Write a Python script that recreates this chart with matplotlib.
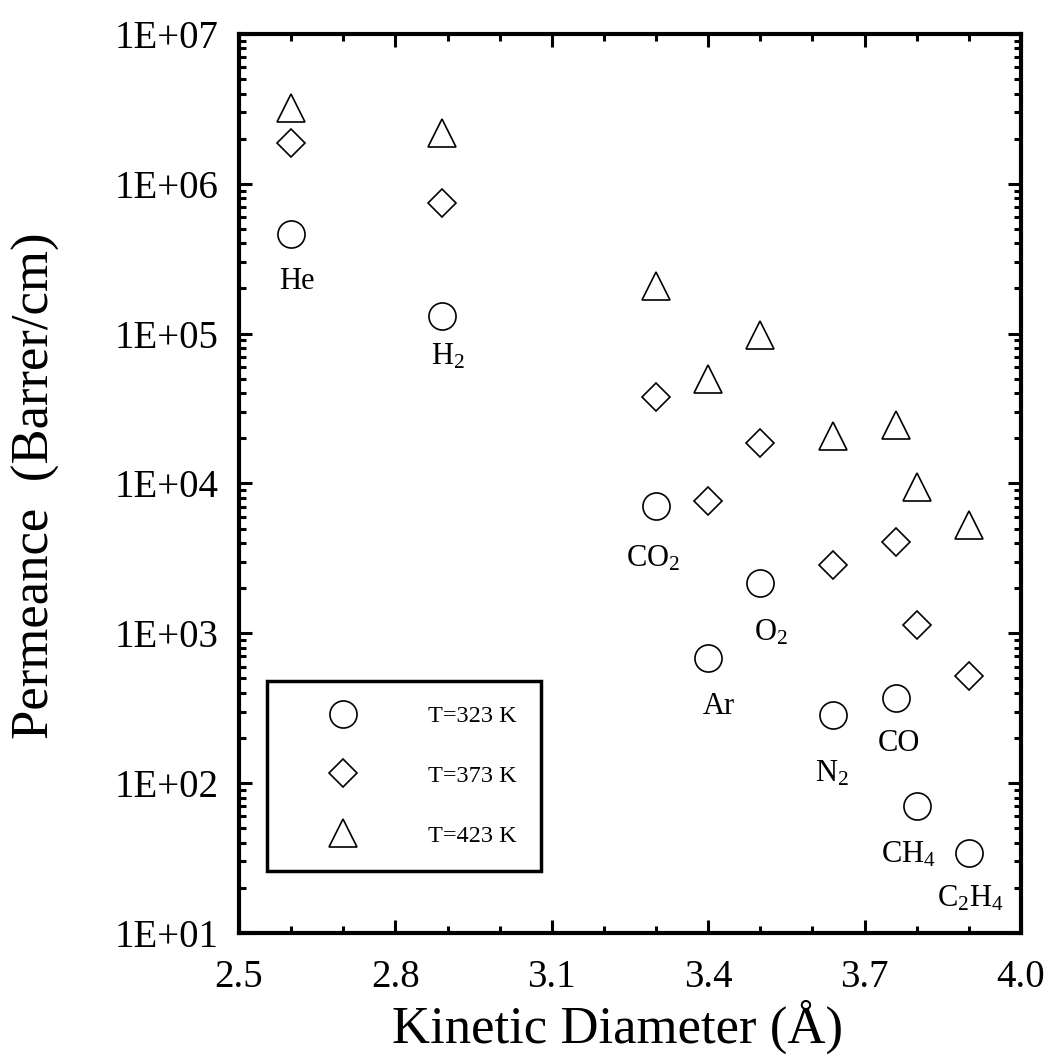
import math
import matplotlib
matplotlib.use("Agg")
import matplotlib.pyplot as plt
from matplotlib.ticker import FixedLocator, FuncFormatter, NullFormatter, MultipleLocator

gases = ["He", "H$_2$", "CO$_2$", "Ar", "O$_2$", "N$_2$", "CO", "CH$_4$", "C$_2$H$_4$"]
diameter = [2.60, 2.89, 3.30, 3.40, 3.50, 3.64, 3.76, 3.80, 3.90]
perm_323 = [4.6e5, 1.31e5, 7.06e3, 6.83e2, 2.18e3, 2.84e2, 3.70e2, 7.0e1, 3.41e1]
perm_373 = [1.87e6, 7.4e5, 3.77e4, 7.67e3, 1.87e4, 2.85e3, 4.08e3, 1.13e3, 5.18e2]
perm_423 = [3.2e6, 2.18e6, 2.08e5, 4.98e4, 9.8e4, 2.07e4, 2.44e4, 9.4e3, 5.32e3]
series_labels = ["T=323 K", "T=373 K", "T=423 K"]
x_ticks = [2.5, 2.8, 3.1, 3.4, 3.7, 4.0]
y_decades = [1, 2, 3, 4, 5, 6, 7]
# label offsets (points) relative to the 323 K circle
label_offsets = [(4, -34), (4, -29), (-2, -38), (8, -35), (8, -36), (-1, -42), (2, -33), (-6, -35), (1, -33)]

serif = ["Liberation Serif", "DejaVu Serif"]
plt.rcParams["font.family"] = serif
plt.rcParams["mathtext.fontset"] = "custom"
plt.rcParams["mathtext.rm"] = "Liberation Serif"
plt.rcParams["mathtext.it"] = "Liberation Serif"

fig = plt.figure(figsize=(10.49, 10.59), dpi=100)
ax = fig.add_axes([0.2278, 0.119, 0.7455, 0.849])

mk = dict(linestyle="none", markerfacecolor="none", markeredgecolor="black", markeredgewidth=1.2)
ax.plot(diameter, perm_323, marker="o", markersize=19.5, label=series_labels[0], **mk)
ax.plot(diameter, perm_373, marker="D", markersize=13.8, label=series_labels[1], **mk)
ax.plot(diameter, perm_423, marker="^", markersize=19.5, label=series_labels[2], **mk)

for g, x, y, off in zip(gases, diameter, perm_323, label_offsets):
    ax.annotate(g, (x, y), xytext=off, textcoords="offset points",
                ha="center", va="center", fontsize=22)

ax.set_yscale("log")
ax.set_xlim(2.5, 4.0)
ax.set_ylim(1e1, 1e7)
ax.xaxis.set_major_locator(FixedLocator(x_ticks))
ax.xaxis.set_minor_locator(MultipleLocator(0.1))
ax.xaxis.set_major_formatter(FuncFormatter(lambda v, p: f"{v:.1f}"))
major_y = [10.0 ** d for d in y_decades]
minor_y = [m * 10.0 ** d for d in y_decades[:-1] for m in range(2, 10)]
ax.yaxis.set_major_locator(FixedLocator(major_y))
ax.yaxis.set_minor_locator(FixedLocator(minor_y))
ax.yaxis.set_minor_formatter(NullFormatter())
ax.yaxis.set_major_formatter(FuncFormatter(lambda v, p: "1E+%02d" % round(math.log10(v))))

ax.tick_params(which="both", direction="in", top=True, right=True, width=2.2, labelsize=28)
ax.tick_params(which="major", length=9.5)
ax.tick_params(which="minor", length=5)
ax.tick_params(axis="x", which="major", pad=19)
ax.tick_params(axis="y", which="major", pad=15)
for s in ax.spines.values():
    s.set_linewidth(3)

ax.set_xlabel("Kinetic Diameter (Å)", fontsize=38)
ax.xaxis.label.set_va("baseline")
ax.xaxis.set_label_coords(0.4847, -0.1222)

ax.set_ylabel("Permeance  (Barrer/cm)", fontsize=38)
ax.yaxis.label.set_va("center")
ax.yaxis.label.set_ha("center")
ax.yaxis.set_label_coords(-0.259, 0.497)

fs = 17.5
leg = ax.legend(loc="lower left", bbox_to_anchor=(0.0358, 0.069), frameon=True, fancybox=False,
                edgecolor="black", fontsize=fs, borderpad=1.0, labelspacing=1.55,
                handletextpad=1.38, handlelength=4.25, borderaxespad=0, markerscale=1.0)
leg.get_frame().set_linewidth(2.5)
leg.get_frame().set_alpha(1)

fig.savefig("out.png", dpi=100)
